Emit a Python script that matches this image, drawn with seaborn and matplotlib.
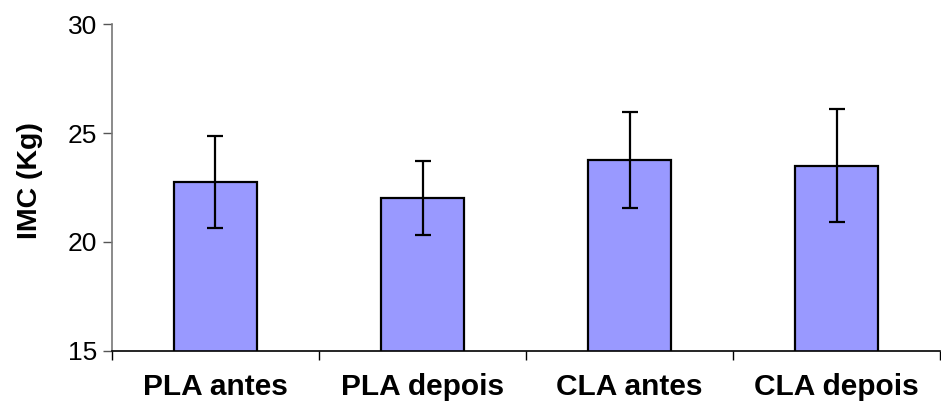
import numpy as np
import seaborn as sns
import matplotlib.pyplot as plt
import pandas as pd

# valores
grupos = ["PLA antes", "PLA depois", "CLA antes", "CLA depois"]
imc_media = [22.75, 22.0, 23.75, 23.5]
imc_dp = [2.1, 1.7, 2.2, 2.6]

df = pd.DataFrame({"grupo": grupos, "imc": imc_media})

sns.set_style("white")
plt.rcParams["font.family"] = ["Liberation Sans", "DejaVu Sans"]
plt.rcParams["text.color"] = "black"
plt.rcParams["axes.labelcolor"] = "black"

fig = plt.figure(figsize=(9.41, 4.08), dpi=100)
ax = fig.add_axes([0.119, 0.14, 0.880, 0.801])

sns.barplot(data=df, x="grupo", y="imc", color="#9999FF", saturation=1,
            width=0.4, edgecolor="black", linewidth=1.6, errorbar=None, ax=ax)
ax.errorbar(np.arange(len(grupos)), imc_media, yerr=imc_dp, fmt="none",
            ecolor="black", elinewidth=1.6, capsize=5.6, capthick=1.6)

ax.set_ylim(15, 30)
ax.set_xlim(-0.5, len(grupos) - 0.5)
ax.set_yticks([15, 20, 25, 30])
ax.tick_params(axis="y", labelsize=19, length=6.5, width=1, direction="out",
               pad=4, left=True, color="#555555", labelcolor="black")
ax.set_xticks(np.arange(-0.5, len(grupos), 1.0), minor=True)
ax.tick_params(axis="x", which="major", length=0, pad=16, labelcolor="black")
ax.tick_params(axis="x", which="minor", length=6.5, width=1, direction="out",
               bottom=True, color="black")
for lbl in ax.get_xticklabels():
    lbl.set_fontsize(21.5)
    lbl.set_fontweight("bold")

ax.set_xlabel("")
ax.set_ylabel("IMC (Kg)", fontsize=20.5, fontweight="bold", color="black")
ax.yaxis.set_label_coords(-0.083, 0.52)

for s in ["top", "right"]:
    ax.spines[s].set_visible(False)
ax.spines["left"].set_color("#777777")
ax.spines["left"].set_linewidth(1.2)
ax.spines["bottom"].set_color("black")
ax.spines["bottom"].set_linewidth(1.2)

fig.savefig("out.png", dpi=100)
